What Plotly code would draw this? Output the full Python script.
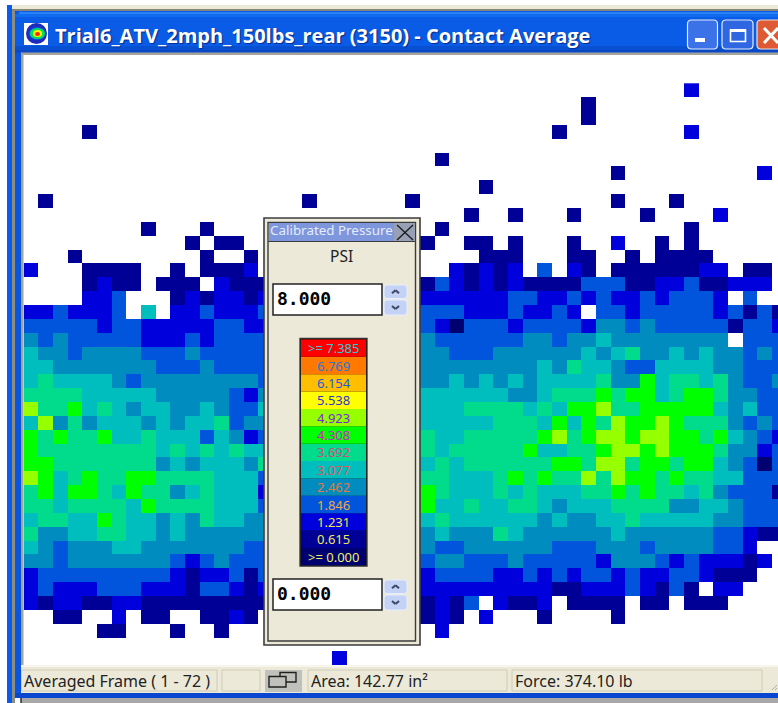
import plotly.graph_objects as go

W, H = 778, 703

PSI_LABELS = [">= 0.000", "0.615", "1.231", "1.846", "2.462", "3.077", "3.692",
              "4.308", "4.923", "5.538", "6.154", "6.769", ">= 7.385"]
LEVEL_COLORS = ["#000070", "#000096", "#0000DC", "#0055DC", "#008CBE", "#00BEBE", "#00DC8C",
                "#00FF00", "#96FF00", "#FFFF00", "#FFBE00", "#FF7800", "#FF0000"]
LABEL_COLORS = ["#F0F060", "#F0E860", "#F0E848", "#F0A848", "#E07848", "#E05858", "#D84888",
                "#D020D0", "#7828E0", "#3030D8", "#2058E0", "#2878D0", "#30C8D8"]

# Cell level (1-13, '.' = no contact) per sensor row. Columns 0-16.
LEFT = [
 ".................", ".................", ".................", "....2............",
 ".................", ".................", ".................", ".................",
 ".2...............", ".................", "........2...2....", "...........2.22..",
 "...2........2..2.", "3...2222..2.2223.", "....2322.222.3222", "....334...2323323",
 "33"+"4"+"333"+"4"+"."+"6"+"."+"33"+"4"+"333"+"4",
 "44444"+"3"+"44"+"33333"+"44"+"33",
 "5"+"4"+"5"+"44444"+"333"+"4"+"3"+"4444",
 "6"+"55"+"4"+"5555"+"444"+"5"+"44444",
 "66"+"5555555"+"444"+"5"+"4444",
 "6"+"7"+"6666"+"5"+"4"+"55555555"+"4",
 "7777"+"66666"+"55555"+"4"+"3"+"5",
 "9"+"77"+"8"+"6"+"7"+"6"+"5"+"66"+"55"+"6"+"5"+"44"+"6",
 "6"+"9"+"5"+"7"+"5"+"666"+"5"+"6"+"5"+"66"+"7"+"4"+"55",
 "8"+"7"+"8"+"77"+"8"+"66"+"7"+"666"+"4"+"6"+"5"+"3"+"4",
 "8"+"77777777"+"6"+"7"+"6"+"7"+"6"+"7"+"66",
 "88"+"7777777"+"5"+"6"+"5"+"666"+"5"+"7",
 "9"+"8"+"6"+"7"+"8"+"77"+"88"+"7777"+"666"+"4",
 "7"+"8"+"6"+"88"+"7"+"6"+"8"+"77"+"5"+"6"+"7"+"666"+"3",
 "77"+"6"+"7777"+"6"+"8"+"7777"+"666"+"4",
 "6"+"77"+"66"+"8"+"7"+"66"+"5"+"6"+"5"+"7"+"66"+"55",
 "7"+"55"+"66"+"77"+"66"+"5"+"6"+"555555",
 "6"+"5"+"4"+"555"+"66"+"5555555"+"44",
 "55"+"4"+"5555555"+"4"+"3"+"4"+"5"+"444",
 "3"+"444444444"+"3"+"2"+"33"+"4"+"2"+"4",
 "3"+"4"+"333"+"444"+"333"+"2"+"44"+"3"+"23",
 "3"+"2"+"33"+"22"+"33"+"222222222",
 ".."+"22"+".."+"3"+"."+"22"+".."+"22"+"3"+"2"+".",
 ".....22...2..2...",
 ".................", ".................",
]

# Columns 17-26: visible only above and below the legend dialog; unseen cells stay '.'.
CENTER = ["."*10]*8 + ["..2......2", "."*10, ".........2"] + ["."*10]*30 + ["....3....."]

# Columns 27-51.
RIGHT = [
 "..................3......", "...........2.............", "...........2.............",
 ".........2........3......", ".........................", ".2.......................",
 ".............2.........3.", "....2....................", ".............2...2.......",
 "...2..2...2....2....3....", ".2................2......", "2..22.2...2..3..2.2......",
 "....222...22..2.2222.....", "..32323.4.32.22222233.22.",
 "2432323"+"2222"+"444"+"22"+"33"+"4"+"22"+"333"+".",
 "333333"+"44"+"33"+"4"+"3"+"4"+"33"+"4"+"3"+"444"+"3"+"."+"4"+"..",
 "444"+"333"+"4"+"33"+"4"+"3"+"."+"44"+"3"+"44444"+"3"+"4"+"2"+"4"+"2",
 "4"+"3"+"1"+"444"+"3"+"4444"+"3"+"55"+"4"+"5"+"44444"+"2"+"44"+"3",
 "5"+"444444"+"55"+"4"+"55"+"6"+"55555555"+"."+"444",
 "55"+"444"+"555555"+"6"+"5"+"6"+"7"+"55"+"6"+"5"+"6"+"55"+"4"+"5"+"4",
 "55555555"+"6"+"5"+"7"+"66"+"5"+"44"+"6666"+"55"+"444",
 "55"+"6"+"5"+"6"+"5"+"6"+"5"+"6666"+"7"+"55"+"8"+"6"+"77"+"6"+"7"+"5"+"44"+"5",
 "666666"+"55"+"6"+"777"+"8"+"7"+"88"+"6"+"7"+"88"+"7"+"55"+"44",
 "666"+"7777"+"6"+"7"+"6"+"88"+"9"+"77"+"88888"+"6"+"5"+"6"+"44",
 "66666"+"777"+"6"+"8"+"6"+"8"+"7"+"9"+"88"+"9"+"8"+"777"+"5"+"4"+"5"+"4",
 "7"+"66"+"77777"+"8"+"9"+"7"+"8"+"99"+"8"+"99"+"88"+"7"+"8"+"6"+"5"+"4"+"3",
 "7"+"6"+"77777"+"8"+"66"+"77"+"8"+"99"+"8"+"9"+"888"+"7"+"55"+"3"+"4",
 "6"+"7"+"6"+"777777"+"88"+"7"+"99"+"7"+"88"+"7"+"88"+"6"+"5"+"4"+"1"+"4",
 "77"+"666"+"7"+"8"+"7"+"8"+"77"+"9"+"7"+"9"+"88"+"7"+"8"+"77"+"66"+"44"+"4",
 "8"+"7"+"666"+"7"+"6"+"7"+"666"+"77"+"8"+"7"+"8"+"77"+"6"+"7"+"5"+"444"+"2",
 "8"+"66"+"7"+"66"+"77"+"6"+"5"+"666"+"7777"+"55"+"66"+"5"+"444",
 "6"+"7"+"666666"+"5"+"6"+"55"+"66"+"7"+"66666"+"55"+"444",
 "5"+"6"+"555"+"7"+"6"+"555555"+"6"+"555555"+"44"+"3"+"22",
 "5"+"44"+"555555"+"444"+"555"+"4"+"5555"+"44"+"3"+"..",
 "4"+"55"+"444"+"5"+"44444"+"3"+"555"+"4"+"3"+"4"+"333"+"2"+"3"+".",
 "3"+"4444"+"33"+"4"+"3"+"4"+"3"+"44"+"3"+"4"+"33"+"44"+"3"+"222"+"..",
 "333333333"+"22"+"333"+"4"+"3"+"2"+"4"+"2"+"."+"33"+"...",
 "2"+"3"+"2"+"4"+"."+"3"+"22"+"3"+"."+"2222"+"."+"22"+"."+"222"+"....",
 "232.3...2....2...........",
 ".3.......................",
 ".........................", ".........................",
]

z = [[None if ch == "." else int(ch) for ch in l + c + r]
     for l, c, r in zip(LEFT, CENTER, RIGHT)]

# Discrete colour scale
n = len(LEVEL_COLORS)
scale = []
for i, col in enumerate(LEVEL_COLORS):
    scale += [[i / n, col], [(i + 1) / n, col]]

fig = go.Figure(go.Heatmap(z=z, x=list(range(52)), y=list(range(42)), colorscale=scale,
                           zmin=0.5, zmax=n + 0.5, showscale=False, hoverongaps=False))

shapes, notes = [], []


def X(v):
    return v / W


def Y(v):
    return 1 - v / H


def rect(x0, y0, x1, y1, fill=None, line=None, lw=1):
    shapes.append(dict(type="rect", xref="paper", yref="paper", x0=X(x0), x1=X(x1), y0=Y(y0), y1=Y(y1),
                       fillcolor=fill or "rgba(0,0,0,0)", line=dict(color=line or "rgba(0,0,0,0)", width=lw if line else 0)))


def seg(x0, y0, x1, y1, col, lw=1):
    shapes.append(dict(type="line", xref="paper", yref="paper", x0=X(x0), x1=X(x1), y0=Y(y0), y1=Y(y1),
                       line=dict(color=col, width=lw)))


def oval(x0, y0, x1, y1, fill):
    shapes.append(dict(type="circle", xref="paper", yref="paper", x0=X(x0), x1=X(x1), y0=Y(y0), y1=Y(y1),
                       fillcolor=fill, line=dict(width=0)))


def rrect(x0, y0, x1, y1, r, fill, line=None, lw=1):
    pts = (f"M {X(x0+r)} {Y(y0)} L {X(x1-r)} {Y(y0)} Q {X(x1)} {Y(y0)} {X(x1)} {Y(y0+r)} "
           f"L {X(x1)} {Y(y1-r)} Q {X(x1)} {Y(y1)} {X(x1-r)} {Y(y1)} L {X(x0+r)} {Y(y1)} "
           f"Q {X(x0)} {Y(y1)} {X(x0)} {Y(y1-r)} L {X(x0)} {Y(y0+r)} Q {X(x0)} {Y(y0)} {X(x0+r)} {Y(y0)} Z")
    shapes.append(dict(type="path", xref="paper", yref="paper", path=pts, fillcolor=fill,
                       line=dict(color=line or fill, width=lw if line else 0)))


def text(x, y, s, size, col, anchor="left", family="Noto Sans", bold=False, shadow=None):
    f = dict(size=size, color=col, family=family, weight="bold" if bold else "normal")
    if shadow:
        f["shadow"] = shadow
    notes.append(dict(xref="paper", yref="paper", x=X(x), y=Y(y), text=s, showarrow=False, xanchor=anchor,
                      yanchor="middle", font=f, borderpad=0))


# ---- window frame
rect(7, 5, W, 9, "#ECE9D8")
rect(7, 9, W, 11, "#85857A")
rect(7, 5, 12, H, "#0A5BE8")
rect(12, 11, 15, H, "#8C8C82")
rect(15, 11, 21, 698, "#0A55E0")
rect(21, 53, 23.5, 698, "#A4A49A")
rrect(15, 11, W + 20, 53, 7, "#0A5CE6")
rect(19, 12, W, 14, "#2A82FA")
rect(15, 14, W, 17, "#0F6CF0")
rect(15, 46, W, 50, "#0850D2")
rect(15, 50, W, 52.5, "#0A47C4")
rect(21, 52.5, W, 55, "#A4A49A")

# ---- title bar icon, text and buttons
rect(24, 23, 48, 45, "#FFFFFF")
oval(26, 23, 47, 44, "#1C2CC0")
oval(29, 27, 45, 40, "#0060E0")
oval(30, 28, 45, 39, "#00E060")
oval(33, 30, 42, 37, "#FFFF00")
oval(35, 32, 40, 36, "#FF2000")
text(54, 36, "Trial6_ATV_2mph_150lbs_rear (3150) - Contact Average", 20, "#FFFFFF",
     family="Open Sans", bold=True, shadow="1px 1px 1px #002A90")
rrect(687.5, 20, 717.5, 49, 4, "#3C72E8", "#E4ECFC", 1.2)
rect(695, 38, 705, 42, "#FFFFFF")
rrect(722, 20, 753, 49, 4, "#2F66E2", "#E4ECFC", 1.2)
rect(730.5, 30, 745.5, 41.5, None, "#FFFFFF", 1.6)
rect(730, 29, 746, 32, "#FFFFFF")
rrect(757, 20, W + 12, 49, 4, "#DD5A34", "#F0E0D8", 1.2)
seg(764, 28, W, 43, "#FFFFFF", 3)
seg(764, 43, W, 28, "#FFFFFF", 3)

# ---- status bar
rect(21, 665, W, 693, "#ECE9D8")
rect(21, 665, W, 667, "#F8F6EC")
rect(15, 693, W, 698, "#0A47D0")
rect(21, 698, W, H, "#A8A8A8")
seg(21, 698, 21, H, "#303030", 1.5)
for x0, x1 in [(21.5, 217), (222, 260), (308, 507), (512, 762)]:
    rect(x0, 670, x1, 691, "#ECE9D8", "#CFCBB8", 1)
rect(265, 670, 302, 692, "#C0C0BC")
rect(280, 672.5, 296, 682, "#C0C0BC", "#202020", 1.4)
rect(269, 676.5, 286, 687, "#C0C0BC", "#202020", 1.4)
seg(772, 690, 777, 685, "#B0AE9C", 1)
seg(775, 690, 777, 688, "#B0AE9C", 1)
text(23, 681, "Averaged Frame ( 1 - 72 )", 16, "#222222")
text(310, 681, "Area: 142.77 in²", 16, "#222222")
text(514, 681, "Force: 374.10 lb", 16, "#222222")

# ---- legend dialog
rect(264, 218, 420, 645, "#ECE9D8", "#3C3C3C", 1.6)
rect(268, 222.5, 415.5, 641, "#ECE9D8", "#3C3C3C", 1.4)
rect(269, 223, 394, 241, "#7D96DC")
rect(394, 223, 415, 241, "#97A0B4")
seg(268, 241.5, 415.5, 241.5, "#3C3C3C", 1.2)
seg(397, 225, 413, 240, "#1A1A1A", 1.3)
seg(397, 240, 413, 225, "#1A1A1A", 1.3)
text(269, 229.5, "Calibrated Pressure", 13.4, "#E6ECFA")
text(341, 255.5, "PSI", 15.5, "#222222", "center")


def spin(y0, y1, up):
    rrect(384, y0, 407, y1, 3, "#C4D2F6", "#E8EEFC", 1)
    mid = (y0 + y1) / 2
    d = -1.5 if up else 1.5
    seg(392, mid - d, 395.5, mid + d, "#404868", 2.2)
    seg(395.5, mid + d, 399, mid - d, "#404868", 2.2)


for top, val in [(284, "8.000"), (579, "0.000")]:
    rect(273, top, 382, top + 31, "#FFFFFF", "#222222", 1.5)
    text(275.5, top + 14.5, val, 18, "#000000", family="DejaVu Sans Mono", bold=True)
    spin(top + 1, top + 14.5, True)
    spin(top + 16, top + 31, False)

band = (565.3 - 339.5) / len(LEVEL_COLORS)
rect(300, 338.5, 367, 566, "#101010", "#303030", 1.3)
for i, (lab, col, tc) in enumerate(zip(PSI_LABELS, LEVEL_COLORS, LABEL_COLORS)):
    y1 = 565.3 - i * band
    rect(301, y1 - band, 366, y1, col)
    text(333.5, y1 - band / 2, lab, 13, tc, "center")

# ---- assemble: margins are zero, so the axis range maps cells straight to window pixels
x_lo, x_hi = (23.5 - 23.7) / 14.68 - 0.5, (W - 23.7) / 14.68 - 0.5
y_top, y_bot = (55 - 83.3) / 13.85 - 0.5, (665 - 83.3) / 13.85 - 0.5
fig.update_layout(
    width=W, height=H, margin=dict(l=0, r=0, t=0, b=0, pad=0), autosize=False,
    paper_bgcolor="#FFFFFF", plot_bgcolor="#FFFFFF", showlegend=False,
    xaxis=dict(domain=[23.5 / W, 1], range=[x_lo, x_hi], visible=False),
    yaxis=dict(domain=[1 - 665 / H, 1 - 55 / H], range=[y_bot, y_top], visible=False),
    shapes=shapes, annotations=notes,
)
fig.write_html("out.html", config={"displayModeBar": False},
               post_script="document.body.style.margin='0';")
